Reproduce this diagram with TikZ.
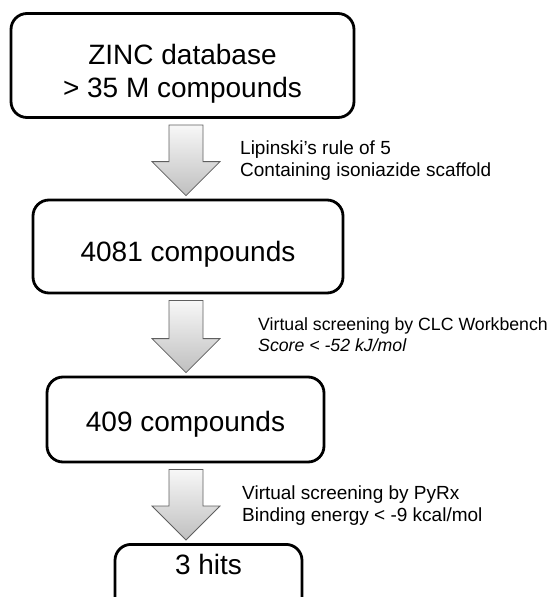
\documentclass[tikz,border=0pt]{standalone}
\usepackage{fontspec}
\setmainfont{Liberation Sans}
\usetikzlibrary{calc}
\definecolor{arrowline}{RGB}{95,95,95}

\begin{document}
\begin{tikzpicture}[x=1pt,y=-1pt,
  stage/.style={draw,line width=2.8pt,rounded corners=16pt,align=center,inner sep=0pt,font=\fontsize{28}{33}\selectfont},
  filterlabel/.style={anchor=west,align=left,inner sep=0pt,font=\fontsize{19}{22.5}\selectfont},
  blockarrow/.style={draw=arrowline,line width=0.8pt,top color=gray!6,bottom color=gray!50}]
\useasboundingbox (0,0) rectangle (554,597);
\clip (0,0) rectangle (554,597);
\coordinate (axis) at (186,0);
% stages of the screening
\node[stage,minimum width=343pt,minimum height=104pt] (zinc) at (182.5,65.5) {\rule{0pt}{37pt}ZINC database\\> 35 M compounds};
\node[stage,minimum width=310pt,minimum height=93pt,text height=35pt,text depth=6pt] (ro5set) at (188,246.5) {4081 compounds};
\node[stage,minimum width=277pt,minimum height=85pt,text height=29pt,text depth=6pt] (dockset) at (185.5,419.5) {409 compounds};
\node[stage,minimum width=187pt,anchor=north,text height=30pt,text depth=40pt] (hits) at (208.5,543) {3 hits};
% filters
\node[filterlabel] (ro5label) at (240,160.5) {Lipinski’s rule of 5\\Containing isoniazide scaffold};
\node[filterlabel,font=\fontsize{17.7}{21}\selectfont] (clclabel) at (258,335) {Virtual screening by CLC Workbench\\\textit{Score < -52 kJ/mol}};
\node[filterlabel] (pyrxlabel) at (242,505.5) {Virtual screening by PyRx\\Binding energy < -9 kcal/mol};
% block arrows
\foreach \a/\b in {zinc/ro5set,ro5set/dockset,dockset/hits}{
  \path (axis |- \a.south) coordinate (top) (axis |- \b.north) coordinate (tip);
  \draw[blockarrow] ($(top)+(-17,6)$) -- ($(top)+(17,6)$) -- ($(tip)+(17,-37)$) -- ($(tip)+(34,-37)$)
    -- ($(tip)+(0,-3)$) -- ($(tip)+(-34,-37)$) -- ($(tip)+(-17,-37)$) -- cycle;
}
\end{tikzpicture}
\end{document}
